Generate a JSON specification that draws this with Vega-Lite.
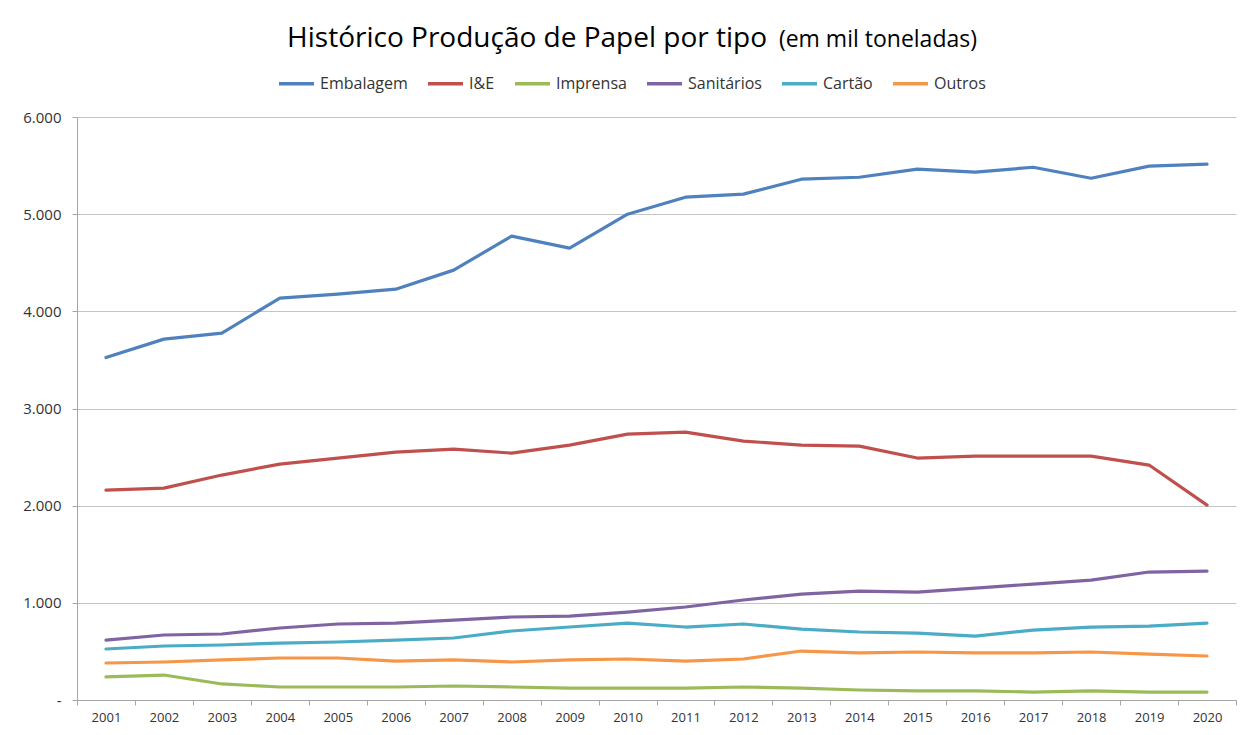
{
  "$schema": "https://vega.github.io/schema/vega-lite/v6.json",
  "width": 1159,
  "height": 583,
  "autosize": {"type": "none"},
  "padding": {"left": 77, "top": 117, "right": 17, "bottom": 35},
  "background": "white",
  "title": {
    "text": "Histórico Produção de Papel por tipo\u2003\u2003\u2003\u2003\u2003\u2003\u2003\u2002\u200b",
    "subtitle": "(em mil toneladas)",
    "anchor": "end",
    "frame": "group",
    "dx": -259,
    "fontSize": 28,
    "subtitleFontSize": 23,
    "subtitlePadding": -24,
    "font": "Open Sans, sans-serif",
    "subtitleFont": "Open Sans, sans-serif",
    "fontWeight": "normal",
    "color": "#000000",
    "subtitleColor": "#000000",
    "offset": 11
  },
  "data": {
    "values": [
      {"ano": "2001", "tipo": "Embalagem", "valor": 3525},
      {"ano": "2002", "tipo": "Embalagem", "valor": 3714},
      {"ano": "2003", "tipo": "Embalagem", "valor": 3776},
      {"ano": "2004", "tipo": "Embalagem", "valor": 4136},
      {"ano": "2005", "tipo": "Embalagem", "valor": 4177},
      {"ano": "2006", "tipo": "Embalagem", "valor": 4228},
      {"ano": "2007", "tipo": "Embalagem", "valor": 4424},
      {"ano": "2008", "tipo": "Embalagem", "valor": 4774},
      {"ano": "2009", "tipo": "Embalagem", "valor": 4650},
      {"ano": "2010", "tipo": "Embalagem", "valor": 5000},
      {"ano": "2011", "tipo": "Embalagem", "valor": 5175},
      {"ano": "2012", "tipo": "Embalagem", "valor": 5206},
      {"ano": "2013", "tipo": "Embalagem", "valor": 5360},
      {"ano": "2014", "tipo": "Embalagem", "valor": 5380},
      {"ano": "2015", "tipo": "Embalagem", "valor": 5463},
      {"ano": "2016", "tipo": "Embalagem", "valor": 5432},
      {"ano": "2017", "tipo": "Embalagem", "valor": 5483},
      {"ano": "2018", "tipo": "Embalagem", "valor": 5370},
      {"ano": "2019", "tipo": "Embalagem", "valor": 5494},
      {"ano": "2020", "tipo": "Embalagem", "valor": 5514},
      {"ano": "2001", "tipo": "I&E", "valor": 2160},
      {"ano": "2002", "tipo": "I&E", "valor": 2181},
      {"ano": "2003", "tipo": "I&E", "valor": 2315},
      {"ano": "2004", "tipo": "I&E", "valor": 2428},
      {"ano": "2005", "tipo": "I&E", "valor": 2490},
      {"ano": "2006", "tipo": "I&E", "valor": 2551},
      {"ano": "2007", "tipo": "I&E", "valor": 2582},
      {"ano": "2008", "tipo": "I&E", "valor": 2541},
      {"ano": "2009", "tipo": "I&E", "valor": 2623},
      {"ano": "2010", "tipo": "I&E", "valor": 2737},
      {"ano": "2011", "tipo": "I&E", "valor": 2757},
      {"ano": "2012", "tipo": "I&E", "valor": 2665},
      {"ano": "2013", "tipo": "I&E", "valor": 2623},
      {"ano": "2014", "tipo": "I&E", "valor": 2613},
      {"ano": "2015", "tipo": "I&E", "valor": 2490},
      {"ano": "2016", "tipo": "I&E", "valor": 2510},
      {"ano": "2017", "tipo": "I&E", "valor": 2510},
      {"ano": "2018", "tipo": "I&E", "valor": 2510},
      {"ano": "2019", "tipo": "I&E", "valor": 2418},
      {"ano": "2020", "tipo": "I&E", "valor": 2006},
      {"ano": "2001", "tipo": "Imprensa", "valor": 237},
      {"ano": "2002", "tipo": "Imprensa", "valor": 257},
      {"ano": "2003", "tipo": "Imprensa", "valor": 165},
      {"ano": "2004", "tipo": "Imprensa", "valor": 134},
      {"ano": "2005", "tipo": "Imprensa", "valor": 134},
      {"ano": "2006", "tipo": "Imprensa", "valor": 134},
      {"ano": "2007", "tipo": "Imprensa", "valor": 144},
      {"ano": "2008", "tipo": "Imprensa", "valor": 134},
      {"ano": "2009", "tipo": "Imprensa", "valor": 123},
      {"ano": "2010", "tipo": "Imprensa", "valor": 123},
      {"ano": "2011", "tipo": "Imprensa", "valor": 123},
      {"ano": "2012", "tipo": "Imprensa", "valor": 134},
      {"ano": "2013", "tipo": "Imprensa", "valor": 123},
      {"ano": "2014", "tipo": "Imprensa", "valor": 103},
      {"ano": "2015", "tipo": "Imprensa", "valor": 93},
      {"ano": "2016", "tipo": "Imprensa", "valor": 93},
      {"ano": "2017", "tipo": "Imprensa", "valor": 82},
      {"ano": "2018", "tipo": "Imprensa", "valor": 93},
      {"ano": "2019", "tipo": "Imprensa", "valor": 82},
      {"ano": "2020", "tipo": "Imprensa", "valor": 82},
      {"ano": "2001", "tipo": "Sanitários", "valor": 617},
      {"ano": "2002", "tipo": "Sanitários", "valor": 669},
      {"ano": "2003", "tipo": "Sanitários", "valor": 679},
      {"ano": "2004", "tipo": "Sanitários", "valor": 741},
      {"ano": "2005", "tipo": "Sanitários", "valor": 782},
      {"ano": "2006", "tipo": "Sanitários", "valor": 792},
      {"ano": "2007", "tipo": "Sanitários", "valor": 823},
      {"ano": "2008", "tipo": "Sanitários", "valor": 854},
      {"ano": "2009", "tipo": "Sanitários", "valor": 864},
      {"ano": "2010", "tipo": "Sanitários", "valor": 905},
      {"ano": "2011", "tipo": "Sanitários", "valor": 957},
      {"ano": "2012", "tipo": "Sanitários", "valor": 1029},
      {"ano": "2013", "tipo": "Sanitários", "valor": 1090},
      {"ano": "2014", "tipo": "Sanitários", "valor": 1121},
      {"ano": "2015", "tipo": "Sanitários", "valor": 1111},
      {"ano": "2016", "tipo": "Sanitários", "valor": 1152},
      {"ano": "2017", "tipo": "Sanitários", "valor": 1193},
      {"ano": "2018", "tipo": "Sanitários", "valor": 1234},
      {"ano": "2019", "tipo": "Sanitários", "valor": 1317},
      {"ano": "2020", "tipo": "Sanitários", "valor": 1327},
      {"ano": "2001", "tipo": "Cartão", "valor": 525},
      {"ano": "2002", "tipo": "Cartão", "valor": 556},
      {"ano": "2003", "tipo": "Cartão", "valor": 566},
      {"ano": "2004", "tipo": "Cartão", "valor": 586},
      {"ano": "2005", "tipo": "Cartão", "valor": 597},
      {"ano": "2006", "tipo": "Cartão", "valor": 617},
      {"ano": "2007", "tipo": "Cartão", "valor": 638},
      {"ano": "2008", "tipo": "Cartão", "valor": 710},
      {"ano": "2009", "tipo": "Cartão", "valor": 751},
      {"ano": "2010", "tipo": "Cartão", "valor": 792},
      {"ano": "2011", "tipo": "Cartão", "valor": 751},
      {"ano": "2012", "tipo": "Cartão", "valor": 782},
      {"ano": "2013", "tipo": "Cartão", "valor": 730},
      {"ano": "2014", "tipo": "Cartão", "valor": 700},
      {"ano": "2015", "tipo": "Cartão", "valor": 689},
      {"ano": "2016", "tipo": "Cartão", "valor": 658},
      {"ano": "2017", "tipo": "Cartão", "valor": 720},
      {"ano": "2018", "tipo": "Cartão", "valor": 751},
      {"ano": "2019", "tipo": "Cartão", "valor": 761},
      {"ano": "2020", "tipo": "Cartão", "valor": 792},
      {"ano": "2001", "tipo": "Outros", "valor": 381},
      {"ano": "2002", "tipo": "Outros", "valor": 391},
      {"ano": "2003", "tipo": "Outros", "valor": 412},
      {"ano": "2004", "tipo": "Outros", "valor": 432},
      {"ano": "2005", "tipo": "Outros", "valor": 432},
      {"ano": "2006", "tipo": "Outros", "valor": 401},
      {"ano": "2007", "tipo": "Outros", "valor": 412},
      {"ano": "2008", "tipo": "Outros", "valor": 391},
      {"ano": "2009", "tipo": "Outros", "valor": 412},
      {"ano": "2010", "tipo": "Outros", "valor": 422},
      {"ano": "2011", "tipo": "Outros", "valor": 401},
      {"ano": "2012", "tipo": "Outros", "valor": 422},
      {"ano": "2013", "tipo": "Outros", "valor": 504},
      {"ano": "2014", "tipo": "Outros", "valor": 484},
      {"ano": "2015", "tipo": "Outros", "valor": 494},
      {"ano": "2016", "tipo": "Outros", "valor": 484},
      {"ano": "2017", "tipo": "Outros", "valor": 484},
      {"ano": "2018", "tipo": "Outros", "valor": 494},
      {"ano": "2019", "tipo": "Outros", "valor": 473},
      {"ano": "2020", "tipo": "Outros", "valor": 453}
    ]
  },
  "mark": {"type": "line", "strokeWidth": 3.2, "strokeCap": "round", "strokeJoin": "round"},
  "encoding": {
    "x": {
      "field": "ano",
      "type": "ordinal",
      "scale": {"type": "band", "paddingInner": 0, "paddingOuter": 0},
      "axis": {
        "title": null,
        "labelAngle": 0,
        "tickBand": "extent",
        "grid": false,
        "domainColor": "#a6a6a6",
        "tickColor": "#a6a6a6",
        "tickSize": 5,
        "labelFontSize": 13,
        "labelColor": "#333333",
        "labelPadding": 6,
        "labelFont": "Open Sans, sans-serif"
      }
    },
    "y": {
      "field": "valor",
      "type": "quantitative",
      "scale": {"domain": [0, 6000], "nice": false},
      "axis": {
        "title": null,
        "values": [0, 1000, 2000, 3000, 4000, 5000, 6000],
        "labelExpr": "datum.value == 0 ? '-' : replace(format(datum.value, ','), ',', '.')",
        "gridColor": "#c4c4c4",
        "gridWidth": 1,
        "domainColor": "#a6a6a6",
        "tickColor": "#a6a6a6",
        "tickSize": 5,
        "labelFontSize": 15,
        "labelColor": "#333333",
        "labelPadding": 11,
        "labelFont": "Open Sans, sans-serif"
      }
    },
    "color": {
      "field": "tipo",
      "type": "nominal",
      "scale": {
        "domain": ["Embalagem", "I&E", "Imprensa", "Sanitários", "Cartão", "Outros"],
        "range": ["#4F81BD", "#C0504D", "#9BBB59", "#8064A2", "#4BACC6", "#F79646"]
      },
      "legend": {
        "title": null,
        "orient": "none",
        "direction": "horizontal",
        "legendX": 200,
        "legendY": -53,
        "symbolType": "stroke",
        "symbolSize": 1225,
        "symbolStrokeWidth": 3.5,
        "labelFontSize": 16,
        "labelColor": "#333333",
        "labelFont": "Open Sans, sans-serif",
        "columnPadding": 13,
        "labelOffset": 4
      }
    }
  },
  "config": {
    "view": {"stroke": null}
  }
}
